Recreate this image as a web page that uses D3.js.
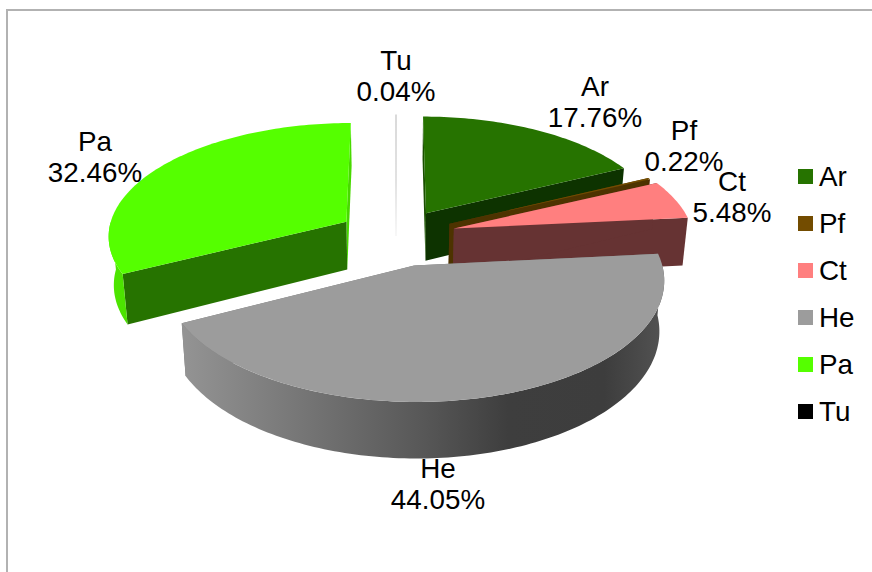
<!DOCTYPE html>
<html>
<head>
<meta charset="utf-8">
<style>
html,body{margin:0;padding:0;background:#fff;overflow:hidden}
svg{display:block}
text{font-family:"Liberation Sans",Arial,sans-serif;fill:#000}
</style>
<script src="https://cdn.jsdelivr.net/npm/d3@7/dist/d3.min.js"></script>
</head>
<body>
<svg id="chart" width="872" height="572"></svg>
<script>
// ---- data ----
const categories = ["Ar","Pf","Ct","He","Pa","Tu"];
const percents = [17.76,0.22,5.48,44.05,32.46,0.04];

// ---- styles ----
const topColors = ["#267300","#734c00","#ff7f7f","#9c9c9c","#55ff00","#000000"];
const startCut  = ["#1a5000","#4d3300","#663333","#777777","#267300","#bbbbbb"];
const endCut    = ["#0d3300","#4d2c00","#663333","#777777","#48d900","#bbbbbb"];

// ---- layout ----
const W = 872, H = 572;
const cx = 396, vanishY = -765, horizonH = 1001, D = 2120;
const DEPTH = 48.5, BASE_SHRINK = 0.982;
const explode = [58,60,60.5,63,59,63];
const radius  = [238,238,240,241,239,242];
const FONT = 27.8, LINE = 31;
const labelAnchors = [[595,96],[684,140],[732,191],[438,478],[95,151],[396,70]];

const svg = d3.select("#chart");
const defs = svg.append("defs");

const hG = defs.append("linearGradient").attr("id","heRim").attr("gradientUnits","userSpaceOnUse")
  .attr("x1",181).attr("x2",662).attr("y1",0).attr("y2",0);
[[0,"#949494"],[0.25,"#767676"],[0.5,"#585858"],[0.68,"#3e3e3e"],[0.88,"#3d3d3d"],[1,"#525252"]]
  .forEach(s=>hG.append("stop").attr("offset",s[0]).attr("stop-color",s[1]));
const pG = defs.append("linearGradient").attr("id","paRim").attr("gradientUnits","userSpaceOnUse")
  .attr("x1",107).attr("x2",130).attr("y1",0).attr("y2",0);
[[0,"#4ee800"],[1,"#4be000"]].forEach(s=>pG.append("stop").attr("offset",s[0]).attr("stop-color",s[1]));
const tG = defs.append("linearGradient").attr("id","tuLine").attr("gradientUnits","userSpaceOnUse")
  .attr("x1",0).attr("x2",0).attr("y1",114).attr("y2",236);
[[0,"#b4b4b4"],[0.55,"#c4c4c4"],[1,"#f0f0f0"]].forEach(s=>tG.append("stop").attr("offset",s[0]).attr("stop-color",s[1]));

// frame
svg.append("path").attr("d",`M7,${H}V10H${W}`).attr("fill","none").attr("stroke","#b2b2b2").attr("stroke-width",2);

// perspective projection of a point on the pie's plane
function project(X, Y, base){
  const s = D/(D+Y);
  return [cx + X*s*(base?BASE_SHRINK:1), vanishY + (horizonH + (base?DEPTH:0))*s];
}
const pie = d3.pie().sort(null).value(d=>d).startAngle(0).endAngle(2*Math.PI);
const arcs = pie(percents);
const line = d3.line();

function rimPts(o, R, a0, a1, base){
  const n = Math.max(2, Math.ceil((a1-a0)/0.02));
  return d3.range(n+1).map(i=>{
    const a = a0+(a1-a0)*i/n;
    return project(o.x+R*Math.sin(a), o.y+R*Math.cos(a), base);
  });
}
function cutFace(o,R,a){
  return line([project(o.x,o.y,false),
    project(o.x+R*Math.sin(a),o.y+R*Math.cos(a),false),
    project(o.x+R*Math.sin(a),o.y+R*Math.cos(a),true),
    project(o.x,o.y,true)])+"Z";
}
const rimFill = {He:"url(#heRim)",Pa:"url(#paRim)"};
const drawOrder = [0,5,4,1,2,3];

const g = svg.append("g");
drawOrder.forEach(i=>{
  const d = arcs[i], name = categories[i], R = radius[i];
  const mid = (d.startAngle+d.endAngle)/2;
  const o = {x:explode[i]*Math.sin(mid), y:explode[i]*Math.cos(mid)};
  if(name==="Tu"){
    // the sliver is thinner than a pixel
    g.append("path").attr("d",line([[cx,114.5],[cx,236]]))
      .attr("stroke","url(#tuLine)").attr("stroke-width",1).attr("fill","none");
    return;
  }
  g.append("path").attr("d",cutFace(o,R,d.endAngle)).attr("fill",endCut[i]);
  g.append("path").attr("d",cutFace(o,R,d.startAngle)).attr("fill",startCut[i]);
  const a0 = Math.max(d.startAngle,Math.PI/2), a1 = Math.min(d.endAngle,1.5*Math.PI);
  if(a1>a0){
    const t = rimPts(o,R,a0,a1,false), b = rimPts(o,R,a0,a1,true).reverse();
    g.append("path").attr("d",line(t.concat(b))+"Z").attr("fill",rimFill[name]||endCut[i]);
  }
  const rim = rimPts(o,R,d.startAngle,d.endAngle,false);
  g.append("path").attr("d",line([project(o.x,o.y,false)].concat(rim))+"Z").attr("fill",topColors[i]);
});

// data labels
const labels = svg.append("g").attr("font-size",FONT).attr("text-anchor","middle");
categories.forEach((c,i)=>{
  const t = labels.append("text").attr("x",labelAnchors[i][0]).attr("y",labelAnchors[i][1]);
  t.append("tspan").attr("x",labelAnchors[i][0]).text(c);
  t.append("tspan").attr("x",labelAnchors[i][0]).attr("dy",LINE).text(percents[i].toFixed(2)+"%");
});

// legend
const ly = d3.scalePoint().domain(categories).range([176.5,411.5]);
const leg = svg.append("g").selectAll("g").data(categories).join("g")
  .attr("transform",d=>`translate(0,${ly(d)})`);
leg.append("rect").attr("x",798).attr("y",-7.5).attr("width",15).attr("height",15)
  .attr("fill",(d,i)=>topColors[i]);
leg.append("text").attr("x",819).attr("y",9).attr("font-size",FONT).text(d=>d);
</script>
</body>
</html>
